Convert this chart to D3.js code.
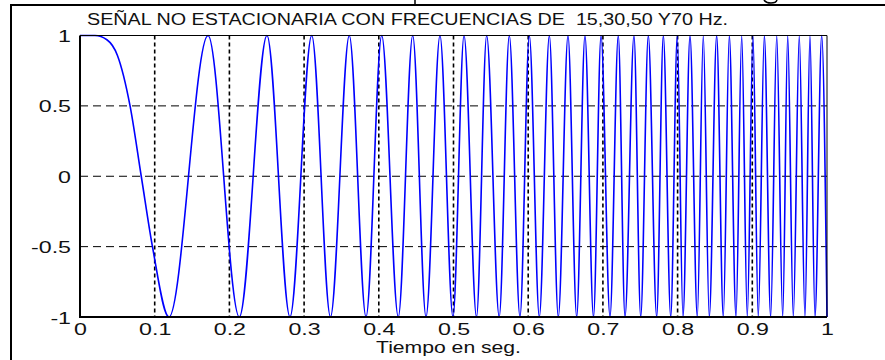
<!DOCTYPE html>
<html>
<head>
<meta charset="utf-8">
<script src="https://cdn.jsdelivr.net/npm/d3@7"></script>
<style>
  html, body { margin: 0; padding: 0; background: #ffffff; }
  svg { display: block; font-family: "Liberation Sans", Arial, sans-serif; }
</style>
</head>
<body>
<svg id="chart" width="885" height="360"></svg>
<script>
// ---- data ----
const titleText = "SEÑAL NO ESTACIONARIA CON FRECUENCIAS DE  15,30,50 Y70 Hz.";
const xLabelText = "Tiempo en seg.";
const xTicks = [0, 0.1, 0.2, 0.3, 0.4, 0.5, 0.6, 0.7, 0.8, 0.9, 1];
const yTicks = [-1, -0.5, 0, 0.5, 1];
const xGrid = [0.1, 0.2, 0.3, 0.4, 0.5, 0.6, 0.7, 0.8, 0.9];
const yGrid = [-0.5, 0, 0.5];

// signal: start of the curve plus each successive trough / crest (time in s)
const signalTime = [
  0, 0.02, 0.036, 0.05, 0.067, 0.082, 0.097,
  0.1191, 0.1714, 0.2133, 0.2503, 0.2811, 0.3102, 0.3353, 0.3605, 0.3829, 0.4039,
  0.4261, 0.4454, 0.4632, 0.4819, 0.4993, 0.5141, 0.5308, 0.5444, 0.5612, 0.5747,
  0.5890, 0.6015, 0.6149, 0.6283, 0.6403, 0.6533, 0.6649, 0.6760, 0.6874, 0.6975,
  0.7095, 0.7206, 0.7296, 0.7416, 0.7506, 0.7608, 0.7720, 0.7809, 0.7908, 0.7996,
  0.8072, 0.8166, 0.8264, 0.8344, 0.8424, 0.8523, 0.8612, 0.8692, 0.8782, 0.8858,
  0.8933, 0.9009, 0.9080, 0.9161, 0.9246, 0.9327, 0.9407, 0.9474, 0.9549, 0.9629,
  0.9705, 0.9772, 0.9839, 0.9929, 1.0
];
const signalValue = [
  1, 1, 0.97, 0.86, 0.5, 0, -0.5,
  -1, 1, -1, 1, -1, 1, -1, 1, -1, 1,
  -1, 1, -1, 1, -1, 1, -1, 1, -1, 1,
  -1, 1, -1, 1, -1, 1, -1, 1, -1, 1,
  -1, 1, -1, 1, -1, 1, -1, 1, -1, 1,
  -1, 1, -1, 1, -1, 1, -1, 1, -1, 1,
  -1, 1, -1, 1, -1, 1, -1, 1, -1, 1,
  -1, 1, -1, 1, -1
];

// ---- drawing ----
(function () {
const svg = d3.select("#chart");
const W = 885, H = 360;
const pLeft = 80, pRight = 827, pTop = 35.5, pBottom = 317;

const x = d3.scaleLinear().domain([0, 1]).range([pLeft, pRight]);
const y = d3.scaleLinear().domain([-1, 1]).range([pBottom, pTop]);

svg.append("rect").attr("width", W).attr("height", H).attr("fill", "#ffffff");

// outer frame of the original figure (with the small marks above it)
svg.append("path")
  .attr("d", `M11,${H} L11,5 L${W},5`)
  .attr("fill", "none").attr("stroke", "#000").attr("stroke-width", 2);
svg.append("line").attr("x1", 415).attr("x2", 415).attr("y1", 0).attr("y2", 4)
  .attr("stroke", "#000").attr("stroke-width", 1.5);
svg.append("path").attr("d", "M764,0 Q766,3 771,3 Q776,3 777,0")
  .attr("fill", "none").attr("stroke", "#000").attr("stroke-width", 1.5);

// grid
svg.append("g").selectAll("line").data(xGrid).join("line")
  .attr("x1", d => x(d)).attr("x2", d => x(d))
  .attr("y1", pTop).attr("y2", pBottom)
  .attr("stroke", "#000").attr("stroke-width", 1.6).attr("stroke-dasharray", "4,3");
svg.append("g").selectAll("line").data(yGrid).join("line")
  .attr("x1", pLeft).attr("x2", pRight)
  .attr("y1", d => y(d)).attr("y2", d => y(d))
  .attr("stroke", "#000").attr("stroke-width", 1).attr("stroke-dasharray", "8,5");

// signal
const pts = signalTime.map((t, i) => [t, signalValue[i]]);
const line = d3.line().x(d => x(d[0])).y(d => y(d[1])).curve(d3.curveMonotoneX);
svg.append("path").datum(pts)
  .attr("d", line)
  .attr("fill", "none").attr("stroke", "#0000ff").attr("stroke-width", 1.6);

// box
svg.append("path")
  .attr("d", `M${pLeft},${pTop} L${pRight},${pTop} L${pRight},${pBottom}`)
  .attr("fill", "none").attr("stroke", "#000").attr("stroke-width", 1);
svg.append("path")
  .attr("d", `M${pLeft},${pTop} L${pLeft},${pBottom} L${pRight},${pBottom}`)
  .attr("fill", "none").attr("stroke", "#000").attr("stroke-width", 2);

const sx = 1.45;
const fmt = d => String(d);
// x axis
const xa = svg.append("g").attr("transform", `translate(0,${pBottom})`)
  .call(d3.axisBottom(x).tickValues(xTicks).tickSize(0).tickFormat(fmt));
xa.select(".domain").remove();
xa.selectAll("text")
  .attr("y", 0).attr("dy", null)
  .attr("font-size", 16).attr("font-family", "Liberation Sans, Arial, sans-serif")
  .attr("fill", "#111")
  .attr("transform", `translate(0,18) scale(${sx},1)`);

// y axis
const ya = svg.append("g").attr("transform", `translate(${pLeft},0)`)
  .call(d3.axisLeft(y).tickValues(yTicks).tickSize(0).tickFormat(fmt));
ya.select(".domain").remove();
ya.selectAll("text")
  .attr("x", 0).attr("dy", null).attr("y", 0)
  .attr("font-size", 16).attr("font-family", "Liberation Sans, Arial, sans-serif")
  .attr("fill", "#111")
  .attr("transform", `translate(-9,6) scale(${sx},1)`);

// title
svg.append("text")
  .attr("x", 87).attr("y", 25)
  .attr("font-size", 16).attr("fill", "#111")
  .attr("textLength", 641).attr("lengthAdjust", "spacingAndGlyphs")
  .style("white-space", "pre")
  .text(titleText);

// x label
svg.append("text")
  .attr("x", 376).attr("y", 353)
  .attr("font-size", 16).attr("fill", "#111")
  .attr("textLength", 145).attr("lengthAdjust", "spacingAndGlyphs")
  .text(xLabelText);
})();
</script>
</body>
</html>
